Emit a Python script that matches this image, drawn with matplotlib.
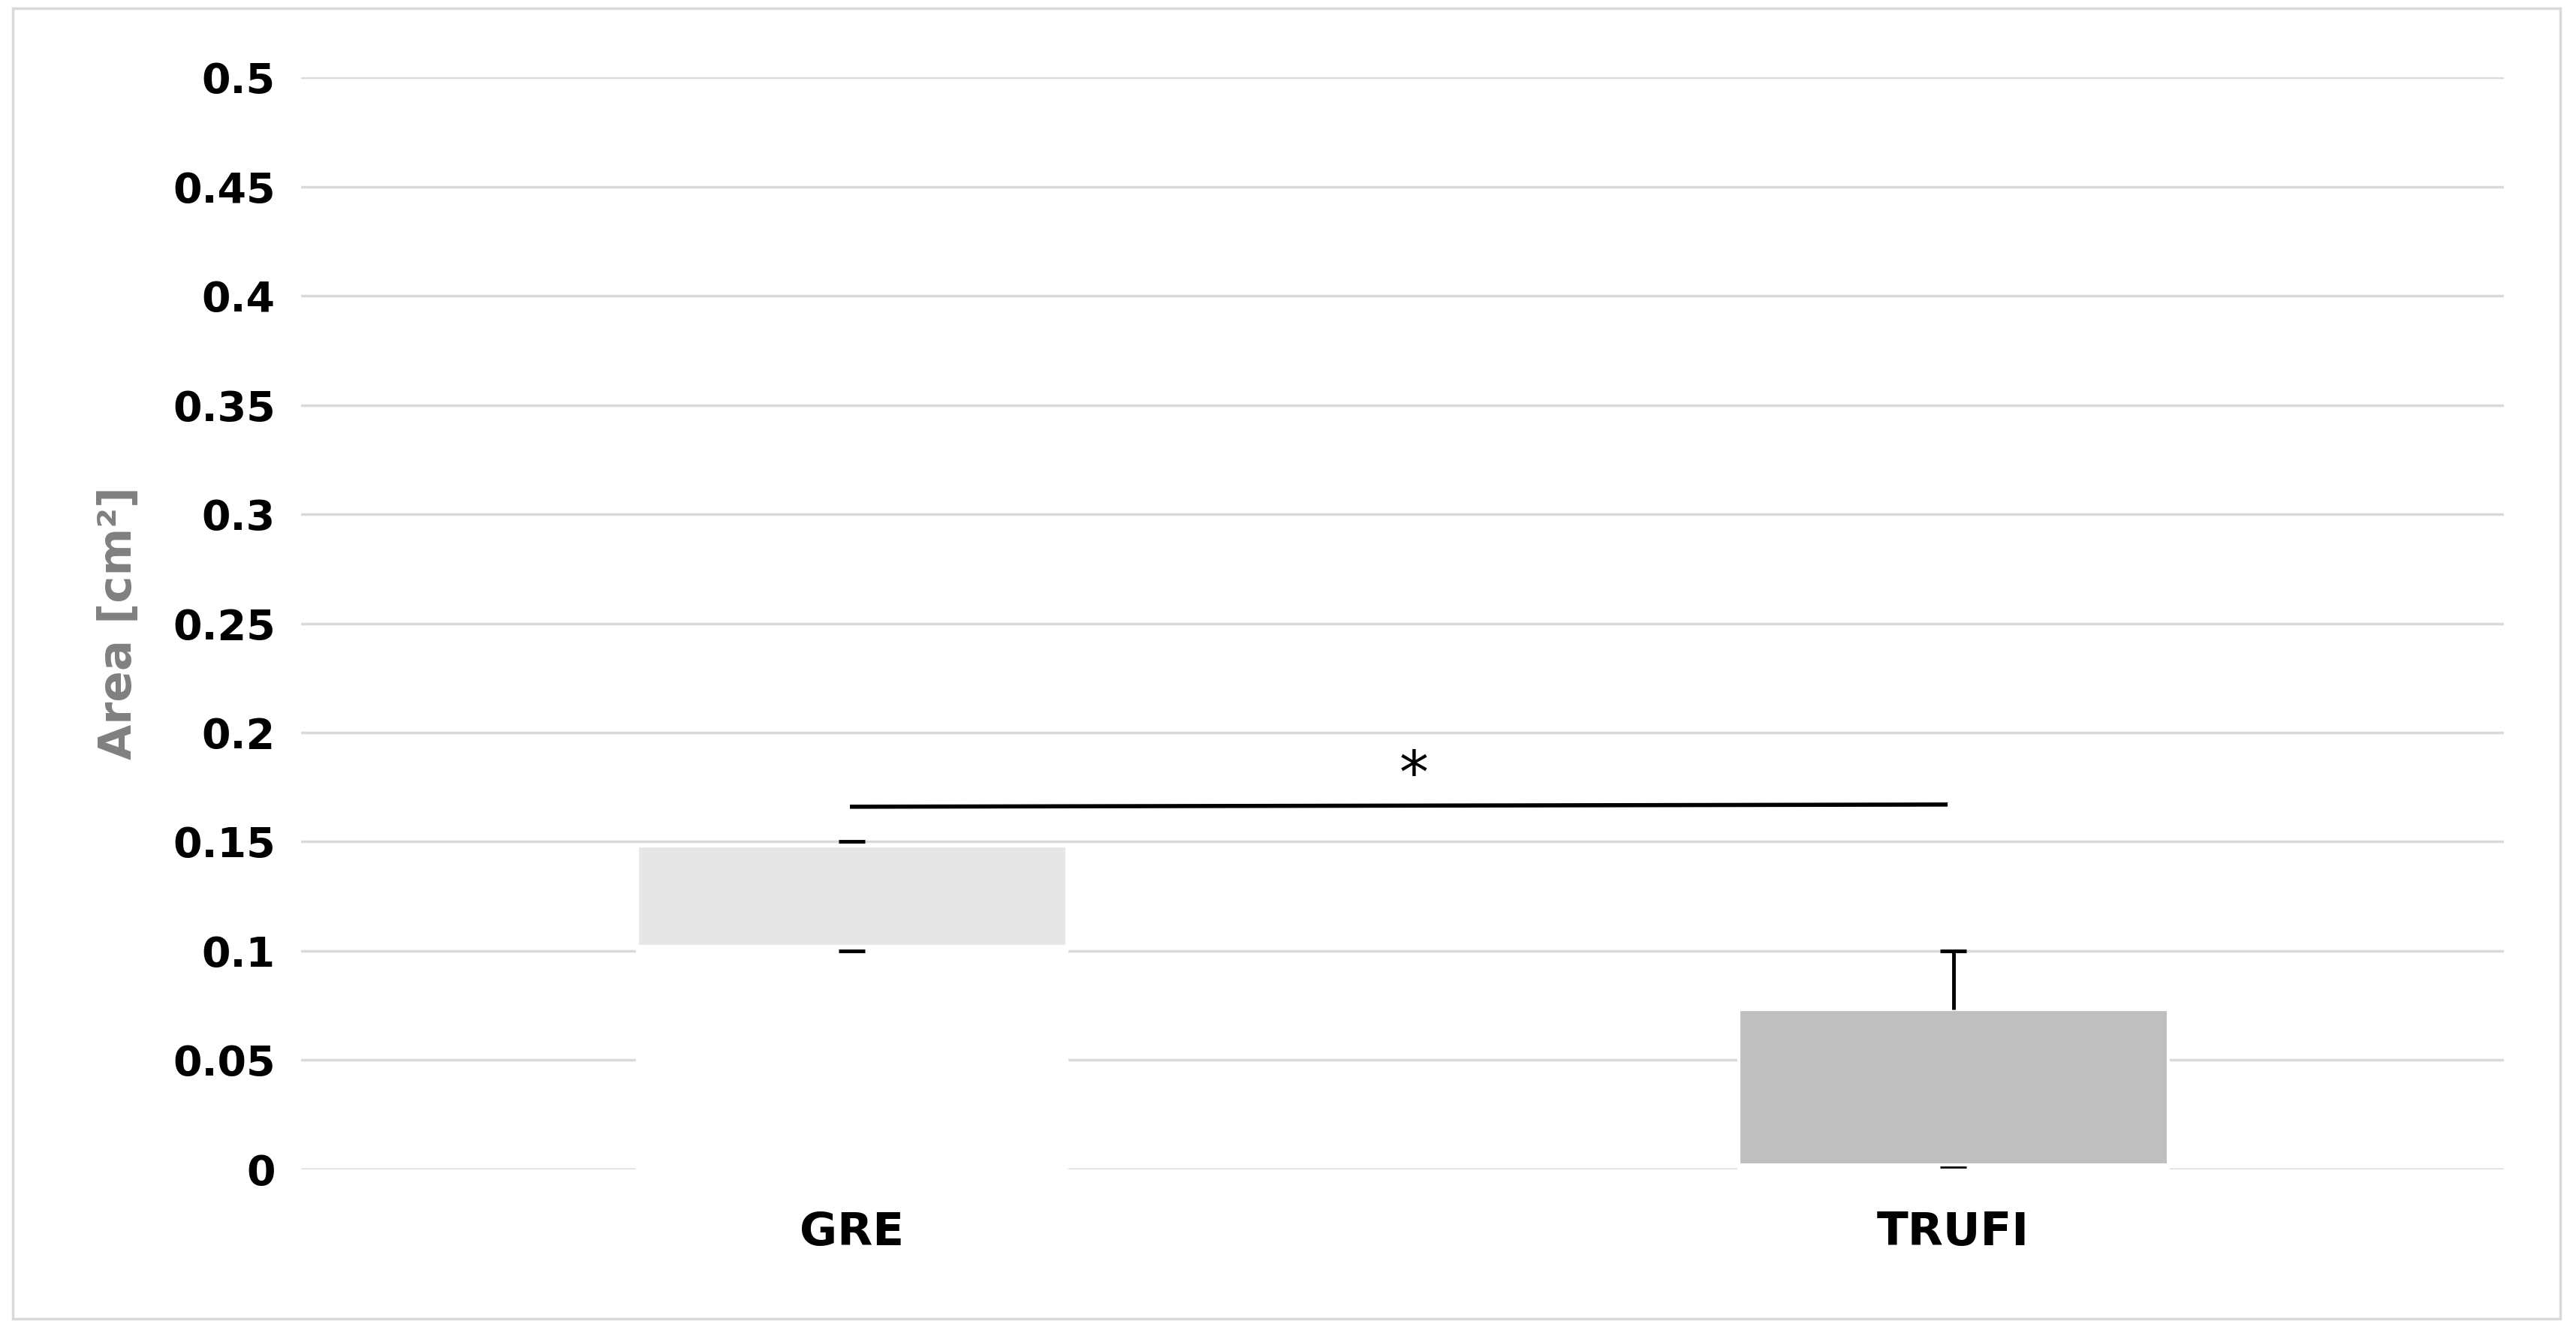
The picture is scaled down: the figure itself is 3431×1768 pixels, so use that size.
import matplotlib.pyplot as plt
from matplotlib.patches import Rectangle

categories = ["GRE", "TRUFI"]
bottoms = [0.102, 0.002]
tops = [0.148, 0.073]
err_low = [0.100, 0.001]
err_high = [0.150, 0.100]
colors = ["#e6e6e6", "#bfbfbf"]
sig_y = 0.166
yticks = [0, 0.05, 0.1, 0.15, 0.2, 0.25, 0.3, 0.35, 0.4, 0.45, 0.5]

fig = plt.figure(figsize=(34.31, 17.68), dpi=100)
ax = fig.add_axes([0.117, 0.119, 0.859 - 0.004, 0.8225])
x = [0, 1]
w = 0.39

ax.set_axisbelow(True)
ax.yaxis.grid(True, color="#d9d9d9", linewidth=2.5)
# invisible lower part of the stacked bar
ax.bar(x, bottoms, width=w, color="white", edgecolor="white", linewidth=3)
ax.bar(x, [t - b for t, b in zip(tops, bottoms)], bottom=bottoms, width=w,
       color=colors, edgecolor="white", linewidth=3)

# error caps
ax.hlines(err_low[0], -0.012, 0.012, color="black", lw=3.5)
ax.hlines(err_high[0], -0.012, 0.012, color="black", lw=3.5)
ax.vlines(1, tops[1], err_high[1], color="black", lw=3.5)
ax.hlines(err_high[1], 0.988, 1.012, color="black", lw=3.5)
ax.hlines(err_low[1], 0.988, 1.012, color="black", lw=2)

# significance
ax.plot([0.0, 0.993], [sig_y, sig_y + 0.001], color="black", lw=4)
ax.text(0.51, sig_y + 0.001, "*", ha="center", va="bottom", fontsize=56)

ax.set_xlim(-0.5, 1.5)
ax.set_ylim(0, 0.5)
ax.set_yticks(yticks)
ax.set_yticklabels([f"{t:g}" for t in yticks], fontsize=40, fontweight="bold")
ax.set_xticks(x)
ax.set_xticklabels(categories, fontsize=44, fontweight="bold")
ax.tick_params(length=0, pad=25)
ax.tick_params(axis="x", pad=40)
for s in ax.spines.values():
    s.set_visible(False)
ax.axhline(0, color="#d9d9d9", lw=2.5, zorder=0)
ax.set_ylabel("Area [cm²]", fontsize=44, fontweight="bold", color="#808080", labelpad=30)

fig.patches.append(Rectangle((0.005, 0.006), 0.989, 0.988, transform=fig.transFigure,
                             fill=False, edgecolor="#d9d9d9", lw=2.5))
fig.savefig("out.png", dpi=100)
